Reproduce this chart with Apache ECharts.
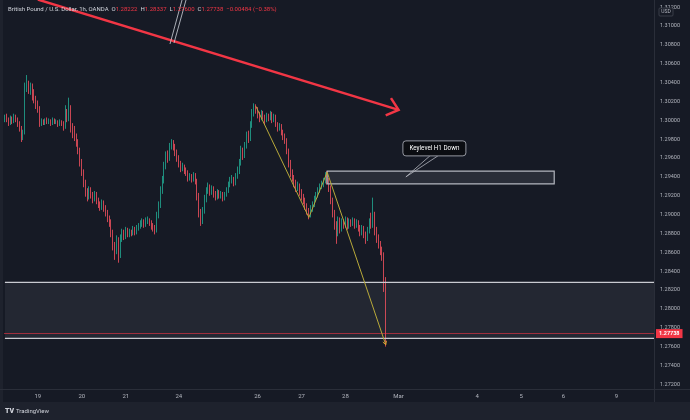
<!DOCTYPE html>
<html>
<head>
<meta charset="utf-8">
<script src="https://cdn.jsdelivr.net/npm/echarts@6/dist/echarts.min.js"></script>
<style>
  html, body { margin: 0; padding: 0; background: #161a25; }
  #chart { width: 690px; height: 420px; }
</style>
</head>
<body>
<div id="chart"></div>
<script>
  // GBP/USD 1h, OANDA — candles
  const opens = [
    1.3000,1.3003,1.3001,1.2998,1.3002,1.2999,1.3004,1.3001,1.2997,1.2992,
    1.2981,1.2987,1.3034,1.3038,1.3032,1.3036,1.3025,1.3023,1.3017,1.3013,
    1.2996,1.2999,1.2997,1.3000,1.2998,1.2999,1.2997,1.3000,1.2998,1.2999,
    1.2996,1.2998,1.2997,1.2994,1.3008,1.3002,1.3013,1.2992,1.2987,1.2983,
    1.2977,1.2968,1.2955,1.2945,1.2934,1.2924,1.2919,1.2926,1.2921,1.2917,
    1.2922,1.2915,1.2911,1.2908,1.2912,1.2907,1.2902,1.2896,1.2892,1.2881,
    1.2867,1.2862,1.2873,1.2857,1.2875,1.2881,1.2877,1.2883,1.2879,1.2882,
    1.2880,1.2885,1.2881,1.2886,1.2888,1.2890,1.2892,1.2889,1.2893,1.2894,
    1.2891,1.2888,1.2886,1.2883,1.2899,1.2910,1.2926,1.2936,1.2952,1.2963,
    1.2960,1.2973,1.2977,1.2972,1.2966,1.2960,1.2954,1.2949,1.2951,1.2947,
    1.2945,1.2939,1.2941,1.2937,1.2942,1.2936,1.2920,1.2902,1.2892,1.2904,
    1.2917,1.2926,1.2930,1.2924,1.2928,1.2921,1.2919,1.2924,1.2920,1.2922,
    1.2918,1.2921,1.2926,1.2932,1.2936,1.2938,1.2934,1.2941,1.2947,1.2955,
    1.2968,1.2963,1.2973,1.2984,1.2981,1.2995,1.3008,1.3015,1.3011,1.3006,
    1.3002,1.3008,1.3004,1.3000,1.3005,1.3002,1.3007,1.3000,1.3004,1.2996,
    1.2992,1.2994,1.2987,1.2983,1.2979,1.2968,1.2955,1.2945,1.2939,1.2934,
    1.2928,1.2931,1.2924,1.2919,1.2915,1.2909,1.2904,1.2899,1.2907,1.2911,
    1.2917,1.2921,1.2926,1.2930,1.2932,1.2936,1.2941,1.2936,1.2928,1.2915,
    1.2902,1.2890,1.2881,1.2894,1.2886,1.2892,1.2890,1.2895,1.2888,1.2893,
    1.2891,1.2894,1.2889,1.2892,1.2886,1.2881,1.2886,1.2879,1.2875,1.2883,
    1.2892,1.2889,1.2899,1.2883,1.2875,1.2869,1.2862,1.2856,1.28222
  ]
  const closes = [
    1.3003,1.3001,1.2998,1.3002,1.2999,1.3004,1.3001,1.2997,1.2992,1.2981,
    1.2987,1.3034,1.3038,1.3032,1.3036,1.3025,1.3023,1.3017,1.3013,1.2996,
    1.2999,1.2997,1.3000,1.2998,1.2999,1.2997,1.3000,1.2998,1.2999,1.2996,
    1.2998,1.2997,1.2994,1.3008,1.3002,1.3013,1.2992,1.2987,1.2983,1.2977,
    1.2968,1.2955,1.2945,1.2934,1.2924,1.2919,1.2926,1.2921,1.2917,1.2922,
    1.2915,1.2911,1.2908,1.2912,1.2907,1.2902,1.2896,1.2892,1.2881,1.2867,
    1.2862,1.2873,1.2857,1.2875,1.2881,1.2877,1.2883,1.2879,1.2882,1.2880,
    1.2885,1.2881,1.2886,1.2888,1.2890,1.2892,1.2889,1.2893,1.2894,1.2891,
    1.2888,1.2886,1.2883,1.2899,1.2910,1.2926,1.2936,1.2952,1.2963,1.2960,
    1.2973,1.2977,1.2972,1.2966,1.2960,1.2954,1.2949,1.2951,1.2947,1.2945,
    1.2939,1.2941,1.2937,1.2942,1.2936,1.2920,1.2902,1.2892,1.2904,1.2917,
    1.2926,1.2930,1.2924,1.2928,1.2921,1.2919,1.2924,1.2920,1.2922,1.2918,
    1.2921,1.2926,1.2932,1.2936,1.2938,1.2934,1.2941,1.2947,1.2955,1.2968,
    1.2963,1.2973,1.2984,1.2981,1.2995,1.3008,1.3015,1.3011,1.3006,1.3002,
    1.3008,1.3004,1.3000,1.3005,1.3002,1.3007,1.3000,1.3004,1.2996,1.2992,
    1.2994,1.2987,1.2983,1.2979,1.2968,1.2955,1.2945,1.2939,1.2934,1.2928,
    1.2931,1.2924,1.2919,1.2915,1.2909,1.2904,1.2899,1.2907,1.2911,1.2917,
    1.2921,1.2926,1.2930,1.2932,1.2936,1.2941,1.2936,1.2928,1.2915,1.2902,
    1.2890,1.2881,1.2894,1.2886,1.2892,1.2890,1.2895,1.2888,1.2893,1.2891,
    1.2894,1.2889,1.2892,1.2886,1.2881,1.2886,1.2879,1.2875,1.2883,1.2892,
    1.2889,1.2899,1.2883,1.2875,1.2869,1.2862,1.2856,1.2822,1.27738
  ]
  const highs = [
    1.3006,1.3007,1.3003,1.3005,1.3004,1.3007,1.3006,1.3003,1.2999,1.2994,
    1.2990,1.3040,1.3048,1.3042,1.3040,1.3039,1.3033,1.3026,1.3021,1.3015,
    1.3002,1.3001,1.3002,1.3003,1.3002,1.3001,1.3003,1.3002,1.3001,1.3000,
    1.3001,1.3000,1.2999,1.3016,1.3012,1.3024,1.3016,1.2997,1.2994,1.2986,
    1.2980,1.2971,1.2959,1.2948,1.2937,1.2928,1.2930,1.2929,1.2924,1.2925,
    1.2924,1.2918,1.2914,1.2916,1.2915,1.2910,1.2905,1.2899,1.2895,1.2884,
    1.2871,1.2878,1.2876,1.2879,1.2885,1.2884,1.2887,1.2886,1.2885,1.2884,
    1.2888,1.2887,1.2889,1.2891,1.2894,1.2896,1.2895,1.2897,1.2898,1.2896,
    1.2894,1.2891,1.2889,1.2903,1.2914,1.2930,1.2941,1.2956,1.2967,1.2968,
    1.2976,1.2980,1.2979,1.2975,1.2969,1.2963,1.2957,1.2955,1.2953,1.2950,
    1.2947,1.2944,1.2943,1.2945,1.2944,1.2938,1.2923,1.2906,1.2908,1.2921,
    1.2929,1.2934,1.2932,1.2931,1.2930,1.2925,1.2927,1.2926,1.2925,1.2924,
    1.2924,1.2929,1.2935,1.2940,1.2942,1.2940,1.2944,1.2951,1.2959,1.2973,
    1.2971,1.2977,1.2988,1.2989,1.2999,1.3012,1.3018,1.3017,1.3014,1.3009,
    1.3011,1.3010,1.3006,1.3008,1.3007,1.3010,1.3009,1.3007,1.3006,1.2998,
    1.2997,1.2996,1.2990,1.2986,1.2981,1.2970,1.2958,1.2948,1.2942,1.2937,
    1.2935,1.2933,1.2927,1.2922,1.2918,1.2912,1.2907,1.2910,1.2914,1.2920,
    1.2924,1.2929,1.2933,1.2936,1.2939,1.2945,1.2946,1.2939,1.2931,1.2918,
    1.2905,1.2893,1.2898,1.2897,1.2896,1.2895,1.2898,1.2897,1.2896,1.2895,
    1.2897,1.2896,1.2895,1.2894,1.2889,1.2889,1.2888,1.2882,1.2887,1.2896,
    1.2902,1.2918,1.2903,1.2887,1.2879,1.2872,1.2866,1.2860,1.28337
  ]
  const lows = [
    1.2998,1.2998,1.2994,1.2995,1.2996,1.2997,1.2998,1.2993,1.2988,1.2977,
    1.2979,1.2985,1.3030,1.3028,1.3027,1.3021,1.3018,1.3012,1.3008,1.2993,
    1.2994,1.2995,1.2995,1.2996,1.2996,1.2994,1.2995,1.2996,1.2996,1.2993,
    1.2994,1.2994,1.2989,1.2991,1.2998,1.2999,1.2987,1.2981,1.2978,1.2972,
    1.2964,1.2951,1.2941,1.2929,1.2919,1.2914,1.2916,1.2917,1.2912,1.2914,
    1.2911,1.2907,1.2904,1.2905,1.2903,1.2898,1.2892,1.2887,1.2876,1.2862,
    1.2852,1.2858,1.2849,1.2854,1.2871,1.2873,1.2874,1.2876,1.2876,1.2877,
    1.2878,1.2878,1.2879,1.2883,1.2885,1.2887,1.2886,1.2887,1.2890,1.2888,
    1.2884,1.2882,1.2879,1.2881,1.2896,1.2907,1.2922,1.2933,1.2948,1.2955,
    1.2957,1.2969,1.2968,1.2962,1.2956,1.2950,1.2945,1.2946,1.2943,1.2941,
    1.2935,1.2936,1.2934,1.2935,1.2932,1.2915,1.2897,1.2888,1.2890,1.2901,
    1.2913,1.2922,1.2920,1.2921,1.2918,1.2915,1.2916,1.2917,1.2917,1.2914,
    1.2915,1.2919,1.2923,1.2929,1.2933,1.2930,1.2931,1.2938,1.2943,1.2952,
    1.2958,1.2960,1.2970,1.2976,1.2978,1.2992,1.3004,1.3007,1.3002,1.2998,
    1.3000,1.3001,1.2996,1.2998,1.2999,1.3000,1.2997,1.2998,1.2993,1.2988,
    1.2989,1.2984,1.2979,1.2975,1.2964,1.2950,1.2940,1.2935,1.2929,1.2924,
    1.2925,1.2920,1.2915,1.2911,1.2905,1.2900,1.2895,1.2897,1.2903,1.2908,
    1.2914,1.2918,1.2923,1.2927,1.2929,1.2933,1.2932,1.2924,1.2911,1.2897,
    1.2884,1.2869,1.2877,1.2880,1.2882,1.2885,1.2886,1.2884,1.2885,1.2887,
    1.2888,1.2885,1.2886,1.2882,1.2877,1.2878,1.2875,1.2869,1.2872,1.2880,
    1.2885,1.2886,1.2878,1.2870,1.2864,1.2857,1.2851,1.2818,1.27600
  ]

  // time axis: one slot per hour, labels at the session starts
  const slotCount = 355
  const dayLabels = ['19', '20', '21', '24', '26', '27', '28', 'Mar', '4', '5', '6', '9']
  const daySlots = [18, 42, 66, 95, 138, 162, 186, 215, 258, 282, 305, 334]
  const priceTicks = [
    1.272, 1.274, 1.276, 1.278, 1.280, 1.282, 1.284, 1.286, 1.288, 1.290, 1.292,
    1.294, 1.296, 1.298, 1.300, 1.302, 1.304, 1.306, 1.308, 1.310, 1.312
  ]
  const lastPrice = 1.27738

  // drawings on the chart
  const zonePrices = [1.28282, 1.27688]
  const keyLevelSlots = [176, 300]
  const keyLevelPrices = [1.29462, 1.29325]
  const swingSlots = [137, 166, 176, 208]
  const swingPrices = [1.3015, 1.2897, 1.2945, 1.2762]
  const arrowSlots = [18, 215]
  const arrowPrices = [1.3128, 1.3011]
  const calloutAnchor = [219, 1.2940]

  const UP = '#22ab94'
  const DOWN = '#f7525f'
  const TEXT = '#b2b5be'
  const FONT = 'Roboto, sans-serif'

  const slots = Array.from({ length: slotCount }, (_, i) => 'h' + i)
  const labelAt = {}
  daySlots.forEach((s, k) => { labelAt[s] = dayLabels[k] })
  const candles = opens.map((o, i) => {
    const col = closes[i] >= o ? UP : DOWN
    return {
      value: [o, closes[i], lows[i], highs[i]],
      itemStyle: { color: col, color0: col, borderColor: col, borderColor0: col, borderColorDoji: col }
    }
  })

  const chart = echarts.init(document.getElementById('chart'))

  chart.setOption({
    backgroundColor: '#161a25',
    animation: false,
    textStyle: { fontFamily: FONT },
    grid: { left: 4, right: 36, top: 0, bottom: 31, outerBoundsMode: 'none' },
    xAxis: {
      type: 'category',
      data: slots,
      boundaryGap: true,
      axisLine: { show: false },
      axisTick: { show: false },
      splitLine: { show: false },
      axisLabel: {
        interval: (i) => labelAt[i] !== undefined,
        formatter: (v, i) => labelAt[i] || '',
        color: TEXT,
        fontSize: 6,
        margin: 4
      }
    },
    yAxis: {
      type: 'value',
      position: 'right',
      min: 1.271506,
      max: 1.312757,
      axisLine: { show: false },
      axisTick: { show: false },
      splitLine: { show: false },
      axisLabel: {
        customValues: priceTicks,
        formatter: (v) => v.toFixed(5),
        color: TEXT,
        fontSize: 5.5,
        margin: 6
      }
    },
    series: [{
      type: 'candlestick',
      data: candles,
      barWidth: 1.3,
      z: 3,
      itemStyle: {
        color: UP,
        color0: DOWN,
        borderColor: UP,
        borderColor0: DOWN,
        borderWidth: 0.8
      },
      markLine: {
        silent: true,
        symbol: 'none',
        precision: 5,
        lineStyle: { color: 'rgba(242,54,69,0.6)', width: 1, type: 'solid' },
        label: {
          position: 'end',
          distance: 2,
          formatter: () => lastPrice.toFixed(5),
          color: '#ffffff',
          fontSize: 5.5,
          fontWeight: 'bold',
          backgroundColor: '#f23645',
          padding: [2, 3, 1, 3]
        },
        data: [{ yAxis: lastPrice }]
      }
    }]
  })

  const at = (slot, price) => chart.convertToPixel({ gridIndex: 0 }, [slot, price])
  const plotRight = 654

  const zTop = at(0, zonePrices[0])
  const zBot = at(0, zonePrices[1])
  const kA = at(keyLevelSlots[0], keyLevelPrices[0])
  const kB = at(keyLevelSlots[1], keyLevelPrices[1])
  const swing = swingSlots.map((s, k) => at(s, swingPrices[k]))
  const aStart = at(arrowSlots[0], arrowPrices[0])
  const aEnd = at(arrowSlots[1], arrowPrices[1])
  const tip = at(calloutAnchor[0], calloutAnchor[1])

  // open chevron at the end of a segment
  function chevron(from, to, len, spread) {
    const ang = Math.atan2(to[1] - from[1], to[0] - from[0]) + Math.PI
    return [
      [to[0] + len * Math.cos(ang - spread), to[1] + len * Math.sin(ang - spread)],
      to,
      [to[0] + len * Math.cos(ang + spread), to[1] + len * Math.sin(ang + spread)]
    ]
  }

  const boxX = tip[0] - 3
  const boxY = tip[1] - 36

  chart.setOption({
    graphic: [
      // bottom strip and pane separators
      { type: 'rect', z: 0, shape: { x: 0, y: 402, width: 690, height: 18 }, style: { fill: '#1e222d' } },
      { type: 'rect', z: 0, shape: { x: 0, y: 0, width: 3, height: 402 }, style: { fill: '#1e222d' } },
      { type: 'line', z: 1, shape: { x1: 0, y1: 389.5, x2: 690, y2: 389.5 }, style: { stroke: '#2a2e39', lineWidth: 1 } },
      { type: 'line', z: 1, shape: { x1: 654.5, y1: 0, x2: 654.5, y2: 402 }, style: { stroke: '#2a2e39', lineWidth: 1 } },

      // support zone
      { type: 'rect', z: 1, shape: { x: zTop[0], y: zTop[1], width: plotRight - zTop[0], height: zBot[1] - zTop[1] },
        style: { fill: 'rgba(120,123,134,0.14)' } },
      { type: 'line', z: 4, shape: { x1: zTop[0], y1: zTop[1], x2: plotRight, y2: zTop[1] }, style: { stroke: '#c9cbd1', lineWidth: 1.2 } },
      { type: 'line', z: 4, shape: { x1: zTop[0], y1: zBot[1], x2: plotRight, y2: zBot[1] }, style: { stroke: '#c9cbd1', lineWidth: 1.2 } },

      // key level box
      { type: 'rect', z: 4, shape: { x: kA[0], y: kA[1], width: kB[0] - kA[0], height: kB[1] - kA[1] },
        style: { fill: 'rgba(120,123,134,0.2)', stroke: '#b2b5be', lineWidth: 1.2 } },

      // swing path
      { type: 'polyline', z: 5, shape: { points: swing }, style: { stroke: '#b8a93a', lineWidth: 1, fill: null } },
      { type: 'polyline', z: 5, shape: { points: chevron(swing[2], swing[3], 4, 0.5) }, style: { stroke: '#e0a030', lineWidth: 1, fill: null } },

      // big down arrow
      { type: 'line', z: 6, shape: { x1: aStart[0], y1: aStart[1], x2: aEnd[0], y2: aEnd[1] }, style: { stroke: '#f23645', lineWidth: 2.5 } },
      { type: 'polyline', z: 6, shape: { points: chevron(aStart, aEnd, 14, 0.7) }, style: { stroke: '#f23645', lineWidth: 2.5, fill: null } },
      { type: 'line', z: 7, shape: { x1: 170, y1: 44, x2: 182, y2: 0 }, style: { stroke: '#d1d4dc', lineWidth: 0.8 } },
      { type: 'line', z: 7, shape: { x1: 174, y1: 43, x2: 186, y2: 0 }, style: { stroke: '#d1d4dc', lineWidth: 0.8 } },

      // callout
      { type: 'line', z: 7, shape: { x1: boxX + 27, y1: boxY + 15, x2: tip[0], y2: tip[1] }, style: { stroke: '#b2b5be', lineWidth: 0.8 } },
      { type: 'line', z: 7, shape: { x1: boxX + 35, y1: boxY + 15, x2: tip[0], y2: tip[1] }, style: { stroke: '#b2b5be', lineWidth: 0.8 } },
      { type: 'rect', z: 8, shape: { x: boxX, y: boxY, width: 63, height: 15, r: 3 },
        style: { fill: '#0b0d12', stroke: '#9598a1', lineWidth: 1 } },
      { type: 'text', z: 9, x: boxX + 31.5, y: boxY + 7.5,
        style: { text: 'Keylevel H1 Down', fill: '#ffffff', fontSize: 6.3, fontFamily: FONT, align: 'center', verticalAlign: 'middle' } },

      // header line
      { type: 'text', z: 10, x: 8, y: 9,
        style: {
          text: '{t|British Pound / U.S. Dollar, 1h, OANDA}  {k|O}{v|1.28222}  {k|H}{v|1.28337}  {k|L}{v|1.27600}  {k|C}{v|1.27738}  {v|\u22120.00484 (\u22120.38%)}',
          verticalAlign: 'middle',
          fontFamily: FONT,
          fontSize: 6,
          rich: {
            t: { fill: '#d1d4dc', fontSize: 6, fontFamily: FONT },
            k: { fill: '#d1d4dc', fontSize: 6, fontFamily: FONT },
            v: { fill: '#f23645', fontSize: 6, fontFamily: FONT }
          }
        } },

      // currency tag on the price scale
      { type: 'rect', z: 10, shape: { x: 659, y: 8, width: 14, height: 8, r: 1 }, style: { fill: '#161a25', stroke: '#434651', lineWidth: 0.8 } },
      { type: 'text', z: 11, x: 666, y: 12, style: { text: 'USD', fill: TEXT, fontSize: 5, fontFamily: FONT, align: 'center', verticalAlign: 'middle' } },

      // footer logo
      { type: 'text', z: 10, x: 5, y: 411, style: { text: 'TV', fill: '#d1d4dc', fontSize: 7, fontWeight: 900, fontFamily: FONT, verticalAlign: 'middle' } },
      { type: 'text', z: 10, x: 16, y: 411, style: { text: 'TradingView', fill: '#d1d4dc', fontSize: 6, fontFamily: FONT, verticalAlign: 'middle' } }
    ]
  })
</script>
</body>
</html>
